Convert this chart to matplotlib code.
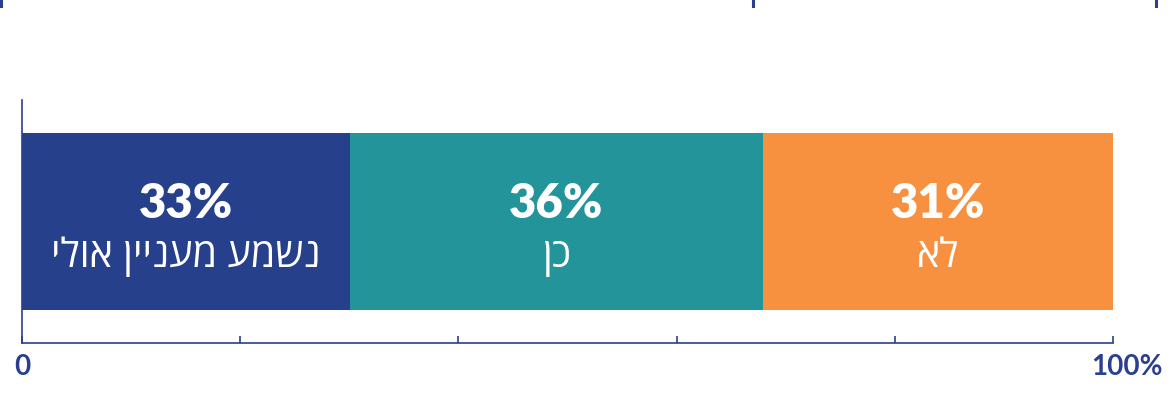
import matplotlib
matplotlib.use("Agg")
import matplotlib.pyplot as plt
import matplotlib.transforms as mtransforms
from matplotlib.lines import Line2D

# data (bar widths as drawn, labels as printed)
categories = ["נשמע מעניין אולי", "כן", "לא"]
widths = [30.1, 37.8, 32.1]
pct_labels = [33, 36, 31]
colors = ["#27408C", "#23949A", "#F79140"]
xticks = [0, 20, 40, 60, 80, 100]
xtick_labels = ["0", "", "", "", "", "100%"]

axis_col = "#2B3F8E"
fam = ["Lato", "Open Sans", "DejaVu Sans"]
heb_fam = ["Open Sans", "DejaVu Sans"]

fig = plt.figure(figsize=(11.76, 4.0), dpi=100)
ax = fig.add_axes([22 / 1176, 57 / 400, (1113 - 22) / 1176, 243 / 400])

left = 0
for cat, w, p, c in zip(categories, widths, pct_labels, colors):
    ax.barh(0, w, left=left, height=1.0, color=c, edgecolor="none")
    cx = left + w / 2
    ax.text(cx, 0.02, f"{p}%", ha="center", va="baseline", color="white",
            fontsize=34, fontweight="heavy", family=fam)
    # matplotlib has no bidi support, so reverse the Hebrew for display
    ax.text(cx, -0.258, cat[::-1], ha="center", va="baseline", color="white",
            fontsize=28.5, family=heb_fam)
    left += w

ax.set_xlim(0, 100)
ax.set_ylim(-0.69, 0.69)
ax.set_yticks([])
ax.set_xticks(xticks)
ax.set_xticklabels(xtick_labels, fontsize=20, color=axis_col, family=fam, fontweight="bold")
ax.tick_params(axis="x", direction="in", length=5, width=1.2, color=axis_col, pad=8)
ax.get_xticklabels()[-1].set_transform(
    ax.get_xticklabels()[-1].get_transform()
    + mtransforms.ScaledTranslation(14 / 100, 0, fig.dpi_scale_trans))

for s in ["top", "right"]:
    ax.spines[s].set_visible(False)
for s in ["left", "bottom"]:
    ax.spines[s].set_color(axis_col)
    ax.spines[s].set_linewidth(1.2)

# cut-off marks from the chart above
for xp in [1, 753, 1156]:
    fig.add_artist(Line2D([xp / 1176, xp / 1176], [394 / 400, 1.0],
                          color=axis_col, lw=2.2))

fig.savefig("out.png", dpi=100, facecolor="white")
